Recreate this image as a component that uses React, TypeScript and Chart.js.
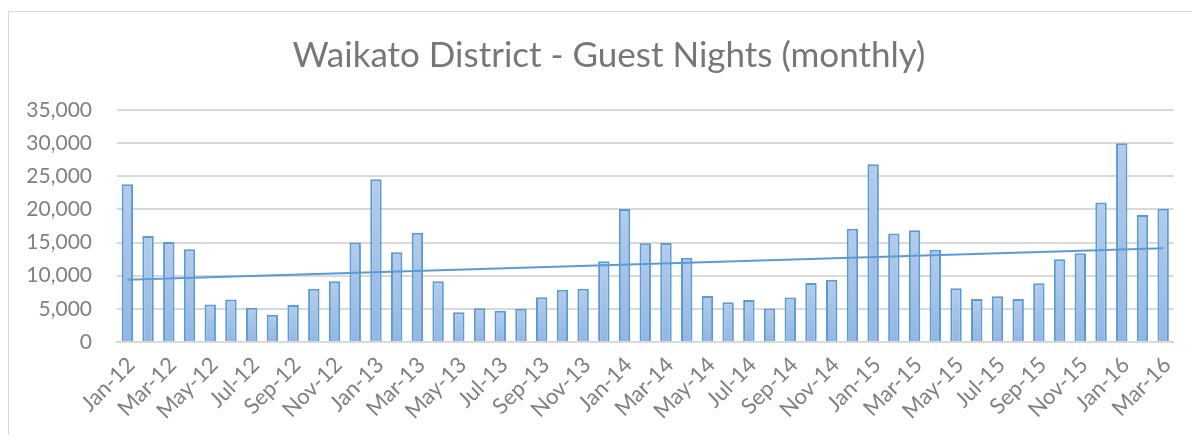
import React, { useEffect, useRef } from "react";
import { Chart, registerables } from "chart.js";

Chart.register(...registerables);

const chartTitle = "Waikato District - Guest Nights (monthly)";

const categories = [
  "Jan-12", "Feb-12", "Mar-12", "Apr-12", "May-12", "Jun-12", "Jul-12", "Aug-12", "Sep-12", "Oct-12", "Nov-12", "Dec-12",
  "Jan-13", "Feb-13", "Mar-13", "Apr-13", "May-13", "Jun-13", "Jul-13", "Aug-13", "Sep-13", "Oct-13", "Nov-13", "Dec-13",
  "Jan-14", "Feb-14", "Mar-14", "Apr-14", "May-14", "Jun-14", "Jul-14", "Aug-14", "Sep-14", "Oct-14", "Nov-14", "Dec-14",
  "Jan-15", "Feb-15", "Mar-15", "Apr-15", "May-15", "Jun-15", "Jul-15", "Aug-15", "Sep-15", "Oct-15", "Nov-15", "Dec-15",
  "Jan-16", "Feb-16", "Mar-16",
];

const guestNights = [
  23800, 16000, 15100, 14000, 5650, 6400, 5150, 4100, 5600, 8050, 9150, 15000,
  24550, 13550, 16500, 9150, 4500, 5100, 4700, 5000, 6750, 7900, 8050, 12200,
  20050, 14900, 14950, 12700, 6950, 6000, 6350, 5050, 6700, 8900, 9400, 17100,
  26800, 16350, 16850, 13900, 8100, 6500, 6900, 6500, 8850, 12500, 13400, 21050,
  30000, 19150, 20100,
];

// Linear trendline end points
const trendStart = 9400;
const trendEnd = 14150;

const yTickValues = [0, 5000, 10000, 15000, 20000, 25000, 30000, 35000];

// Shifts the title block so it is centred like the original (over the whole frame)
const titleShiftPlugin = {
  id: "titleShift",
  afterLayout(chart: any) {
    const t = chart.titleBlock;
    if (t) {
      t.left += 17;
      t.right += 17;
    }
  },
};

export default function App() {
  const canvasRef = useRef<HTMLCanvasElement | null>(null);

  useEffect(() => {
    const canvas = canvasRef.current;
    if (!canvas) return;
    const n = categories.length;
    const trend = categories.map((_, i) => (i === 0 ? trendStart : i === n - 1 ? trendEnd : null));
    const tickColor = "#808080";

    const chart = new Chart(canvas, {
      type: "bar",
      data: {
        labels: categories,
        datasets: [
          {
            type: "line",
            data: trend,
            borderColor: "#5b9bd5",
            borderWidth: 2,
            pointRadius: 0,
            spanGaps: true,
            order: 0,
          } as any,
          {
            type: "bar",
            data: guestNights,
            backgroundColor: (ctx: any) => {
              const c = ctx.chart;
              const yScale = c.scales && c.scales.y;
              if (!yScale || !c.chartArea || typeof ctx.raw !== "number") return "#a5c3e8";
              const top = yScale.getPixelForValue(ctx.raw);
              const bottom = yScale.getPixelForValue(0);
              if (!isFinite(top) || !isFinite(bottom) || top === bottom) return "#a5c3e8";
              const g = c.ctx.createLinearGradient(0, top, 0, bottom);
              g.addColorStop(0, "#b3ccec");
              g.addColorStop(1, "#92b7e3");
              return g;
            },
            borderColor: "#5b9bd5",
            borderWidth: 2,
            barPercentage: 0.55,
            categoryPercentage: 1,
            order: 1,
          } as any,
        ],
      },
      options: {
        responsive: false,
        animation: false,
        layout: { padding: { left: 0, right: 17, top: 0, bottom: 0 } },
        plugins: {
          legend: { display: false },
          tooltip: { enabled: false },
          title: {
            display: true,
            text: chartTitle,
            color: "#777777",
            font: { family: "Lato", size: 35, weight: "normal" as any },
            padding: { top: 23, bottom: 33 },
          },
        },
        scales: {
          x: {
            grid: { display: false, drawTicks: false },
            border: { display: true, color: "#d9d9d9", width: 2 },
            ticks: {
              autoSkip: false,
              maxRotation: 45,
              minRotation: 45,
              padding: 10,
              labelOffset: 4,
              color: tickColor,
              font: { family: "Lato", size: 22 },
              callback: (_v: any, i: number) => (i % 2 === 0 ? categories[i] : ""),
            },
            afterFit: (s: any) => {
              s.height = 93;
            },
          },
          y: {
            min: 0,
            max: 35000,
            afterBuildTicks: (s: any) => {
              s.ticks = yTickValues.map((v) => ({ value: v }));
            },
            ticks: {
              padding: 25,
              color: tickColor,
              font: { family: "Lato", size: 21 },
              callback: (v: any) => Number(v).toLocaleString("en-US"),
            },
            grid: { color: "#d9d9d9", lineWidth: 2, drawTicks: false },
            border: { display: false },
            afterFit: (s: any) => {
              s.width = 108;
            },
          },
        },
      } as any,
      plugins: [titleShiftPlugin as any],
    });
    return () => chart.destroy();
  }, []);

  return (
    <div style={{ paddingTop: 3 }}>
      <div
        style={{
          width: 1184,
          height: 424,
          borderTop: "1px solid #d9d9d9",
          borderLeft: "1px solid #d9d9d9",
          boxSizing: "border-box",
          overflow: "hidden",
        }}
      >
        <canvas ref={canvasRef} width={1183} height={423} style={{ display: "block" }} />
      </div>
    </div>
  );
}
